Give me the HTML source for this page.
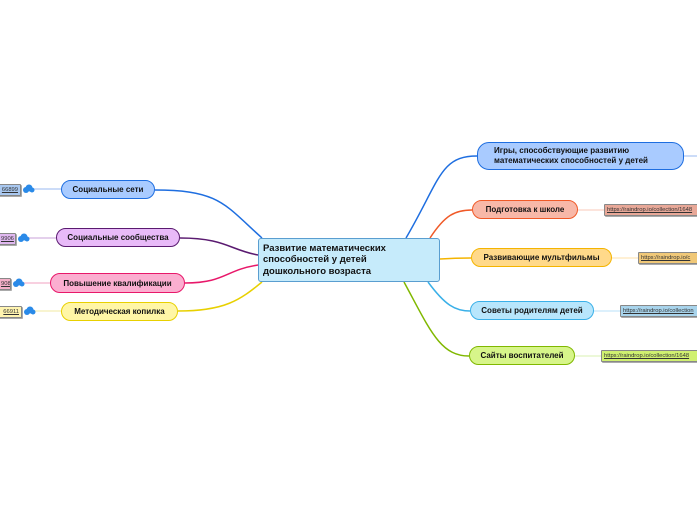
<!DOCTYPE html>
<html><head><meta charset="utf-8"><style>
html,body{margin:0;padding:0;background:#fff;width:697px;height:520px;overflow:hidden;position:relative;font-family:"Liberation Sans","DejaVu Sans",sans-serif}
.n{position:absolute;box-sizing:border-box;border:1px solid;border-radius:10px;font-weight:bold;font-size:8px;color:#111;display:flex;align-items:center;justify-content:center;white-space:nowrap}
.l{position:absolute;box-sizing:border-box;border:1px solid #888;border-radius:1px;font-size:5.8px;color:#333;text-decoration:underline;height:12px;line-height:10px;padding:0 2px;overflow:hidden;white-space:nowrap;box-shadow:1px 1px 0 #aaa}
svg{position:absolute;left:0;top:0}
</style></head><body>
<svg width="697" height="520" fill="none" stroke-width="1.5">
<path d="M155,190 C220,190 225,205 262,238" stroke="#1e6ee0"/>
<path d="M180,238 C225,238 230,250 258,255" stroke="#5a1a70"/>
<path d="M185,283 C225,283 225,270 258,265" stroke="#e8186a"/>
<path d="M178,311 C225,311 240,300 262,282" stroke="#e8d000"/>
<path d="M406,238 C440,180 440,156 477,156" stroke="#1e6ee0"/>
<path d="M430,238 C445,215 455,210 472,210" stroke="#f05a28"/>
<path d="M440,259 C455,258 460,258 471,258" stroke="#f4b400"/>
<path d="M428,282 C445,305 455,311 470,311" stroke="#3ab0e8"/>
<path d="M404,282 C430,330 440,356 469,356" stroke="#80b800"/>
<g stroke-width="1">
<path d="M32,189 H61" stroke="#9ab8f0"/>
<path d="M28,238 H56" stroke="#c8a0d8"/>
<path d="M22,283 H50" stroke="#f0a0c0"/>
<path d="M33,311 H61" stroke="#f0e8a0"/>
<path d="M684,156 H697" stroke="#9ab8f0"/>
<path d="M578,210 H604" stroke="#f8c8b8"/>
<path d="M612,258 H638" stroke="#ffe0a8"/>
<path d="M594,311 H620" stroke="#b8e0f8"/>
<path d="M575,356 H601" stroke="#d8f0b0"/>
</g>
<g fill="#2a8ae8" stroke="none">
<circle cx="26" cy="190" r="3"/><circle cx="29" cy="188" r="3.5"/><circle cx="32" cy="190" r="2.5"/>
<circle cx="21" cy="239" r="3"/><circle cx="24" cy="237" r="3.5"/><circle cx="27" cy="239" r="2.5"/>
<circle cx="16" cy="284" r="3"/><circle cx="19" cy="282" r="3.5"/><circle cx="22" cy="284" r="2.5"/>
<circle cx="27" cy="312" r="3"/><circle cx="30" cy="310" r="3.5"/><circle cx="33" cy="312" r="2.5"/>
</g>
</svg>
<div class="n" style="left:258px;top:238px;width:182px;height:44px;background:#c6ebfb;border-color:#5a9ed0;border-radius:3px;font-size:9.5px;justify-content:flex-start;padding-left:4px;line-height:11.5px;white-space:normal">Развитие математических<br>способностей у детей<br>дошкольного возраста</div>
<div class="n" style="left:61px;top:180px;width:94px;height:19px;background:#a9cbff;border-color:#1e6ee0">Социальные сети</div>
<div class="n" style="left:56px;top:228px;width:124px;height:19px;background:#e8baf8;border-color:#5a1a70">Социальные сообщества</div>
<div class="n" style="left:50px;top:273px;width:135px;height:20px;background:#fbaed0;border-color:#e8186a">Повышение квалификации</div>
<div class="n" style="left:61px;top:302px;width:117px;height:19px;background:#fff6a6;border-color:#e8d000">Методическая копилка</div>
<div class="n" style="left:477px;top:142px;width:207px;height:28px;background:#a9cbff;border-color:#1e6ee0;justify-content:flex-start;padding-left:16px;line-height:10px;border-radius:12px">Игры, способствующие развитию<br>математических способностей у детей</div>
<div class="n" style="left:472px;top:200px;width:106px;height:19px;background:#f8b8a8;border-color:#f05a28">Подготовка к школе</div>
<div class="n" style="left:471px;top:248px;width:141px;height:19px;background:#ffd98a;border-color:#f4b400">Развивающие мультфильмы</div>
<div class="n" style="left:470px;top:301px;width:124px;height:19px;background:#b8e6fc;border-color:#3ab0e8">Советы родителям детей</div>
<div class="n" style="left:469px;top:346px;width:106px;height:19px;background:#d7f58a;border-color:#80b800">Сайты воспитателей</div>
<div class="l" style="left:-2px;top:184px;width:23px;background:#a9c8f0;text-align:right">66899</div>
<div class="l" style="left:-2px;top:233px;width:18px;background:#e0b8f0;text-align:right">9906</div>
<div class="l" style="left:-2px;top:278px;width:13px;background:#f4b0c8;text-align:right">908</div>
<div class="l" style="left:-2px;top:306px;width:24px;background:#fff4b0;text-align:right">66911</div>
<div class="l" style="left:604px;top:204px;width:100px;background:#e8a898">https://raindrop.io/collection/1648</div>
<div class="l" style="left:638px;top:252px;width:70px;background:#f0c878">https://raindrop.io/c</div>
<div class="l" style="left:620px;top:305px;width:85px;background:#a8d4ec">https://raindrop.io/collection</div>
<div class="l" style="left:601px;top:350px;width:100px;background:#d0f070">https://raindrop.io/collection/1648</div>
</body></html>
